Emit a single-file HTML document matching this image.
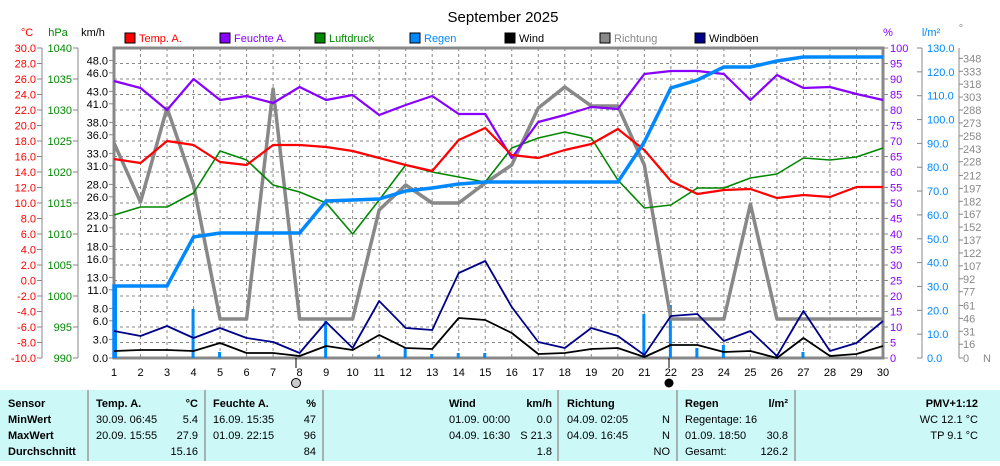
<!DOCTYPE html>
<html><head><meta charset="utf-8"><style>
body{margin:0;background:#fff;width:1000px;height:461px;overflow:hidden;font-family:"Liberation Sans",sans-serif}
svg text{font-family:"Liberation Sans",sans-serif}
</style></head><body>
<svg width="1000" height="461" viewBox="0 0 1000 461" xmlns="http://www.w3.org/2000/svg">
<text x="503" y="22" font-size="15" text-anchor="middle" fill="#000">September 2025</text>
<!-- unit headers -->
<g font-size="11">
<text x="27" y="36" fill="#f00" text-anchor="middle">°C</text>
<text x="58" y="36" fill="#080" text-anchor="middle">hPa</text>
<text x="93" y="36" fill="#000" text-anchor="middle">km/h</text>
<text x="888" y="36" fill="#80f" text-anchor="middle">%</text>
<text x="931" y="36" fill="#08f" text-anchor="middle">l/m²</text>
<text x="961" y="32" fill="#888" text-anchor="middle">°</text>
</g>
<!-- legend -->
<g font-size="11">
<rect x="125" y="33" width="10" height="10" fill="#f00" stroke="#000"/><text x="139" y="42" fill="#f00">Temp. A.</text>
<rect x="220" y="33" width="10" height="10" fill="#80f" stroke="#000"/><text x="234" y="42" fill="#80f">Feuchte A.</text>
<rect x="315" y="33" width="10" height="10" fill="#080" stroke="#000"/><text x="329" y="42" fill="#080">Luftdruck</text>
<rect x="410" y="33" width="10" height="10" fill="#08f" stroke="#000"/><text x="424" y="42" fill="#08f">Regen</text>
<rect x="505" y="33" width="10" height="10" fill="#000" stroke="#000"/><text x="519" y="42" fill="#000">Wind</text>
<rect x="600" y="33" width="10" height="10" fill="#888" stroke="#000"/><text x="614" y="42" fill="#888">Richtung</text>
<rect x="695" y="33" width="10" height="10" fill="#008" stroke="#000"/><text x="709" y="42" fill="#000">Windböen</text>
</g>
<!-- grid -->
<g stroke="#888" stroke-dasharray="3,3" stroke-width="1">
<path d="M114 63.5H883M114 79H883M114 94.5H883M114 110H883M114 125.5H883M114 141H883M114 156.5H883M114 172H883M114 187.5H883M114 203H883M114 218.5H883M114 234H883M114 249.5H883M114 265H883M114 280.5H883M114 296H883M114 311.5H883M114 327H883M114 342.5H883"/>
<path id="vg" d=""/>
</g>
<g id="vgrid" stroke="#888" stroke-dasharray="3,3"></g>
<rect x="114" y="48" width="769" height="310" fill="none" stroke="#888" stroke-width="3"/>
<!-- left axes -->
<g stroke="#888"><path d="M42 48V358M78 48V358"/></g>
<g id="laxes" font-size="11"></g>
<g id="series"></g>
<g id="xl" font-size="11"></g>
<circle cx="296" cy="383" r="4.5" fill="#ccc" stroke="#000"/>
<circle cx="669" cy="383" r="4.5" fill="#000"/>
<path d="M296 358V368M669 358V368" stroke="#000"/>
<!-- table -->
<rect x="0" y="390" width="1000" height="71" fill="#ccf8f8"/>
<g stroke="#999" stroke-width="1.5"><path d="M88 390V461M205 390V461M323 390V461M558 390V461M677 390V461M795 390V461"/></g>
<g font-size="11" fill="#000">
<g font-weight="bold"><text x="8" y="407">Sensor</text><text x="8" y="423">MinWert</text><text x="8" y="439">MaxWert</text><text x="8" y="455">Durchschnitt</text>
<text x="96" y="407">Temp. A.</text><text x="198" y="407" text-anchor="end">°C</text>
<text x="213" y="407">Feuchte A.</text><text x="316" y="407" text-anchor="end">%</text>
<text x="449" y="407">Wind</text><text x="552" y="407" text-anchor="end">km/h</text>
<text x="567" y="407">Richtung</text>
<text x="685" y="407">Regen</text><text x="788" y="407" text-anchor="end">l/m²</text>
<text x="978" y="407" text-anchor="end">PMV+1:12</text></g>
<text x="96" y="423">30.09.  06:45</text><text x="198" y="423" text-anchor="end">5.4</text>
<text x="96" y="439">20.09.  15:55</text><text x="198" y="439" text-anchor="end">27.9</text>
<text x="198" y="455" text-anchor="end">15.16</text>
<text x="213" y="423">16.09.  15:35</text><text x="316" y="423" text-anchor="end">47</text>
<text x="213" y="439">01.09.  22:15</text><text x="316" y="439" text-anchor="end">96</text>
<text x="316" y="455" text-anchor="end">84</text>
<text x="449" y="423">01.09.  00:00</text><text x="552" y="423" text-anchor="end">0.0</text>
<text x="449" y="439">04.09.  16:30</text><text x="552" y="439" text-anchor="end">S 21.3</text>
<text x="552" y="455" text-anchor="end">1.8</text>
<text x="567" y="423">04.09.  02:05</text><text x="670" y="423" text-anchor="end">N</text>
<text x="567" y="439">04.09.  16:45</text><text x="670" y="439" text-anchor="end">N</text>
<text x="670" y="455" text-anchor="end">NO</text>
<text x="685" y="423">Regentage: 16</text>
<text x="685" y="439">01.09.  18:50</text><text x="788" y="439" text-anchor="end">30.8</text>
<text x="685" y="455">Gesamt:</text><text x="788" y="455" text-anchor="end">126.2</text>
<text x="978" y="423" text-anchor="end">WC 12.1 °C</text>
<text x="978" y="439" text-anchor="end">TP 9.1 °C</text>
</g>
<script>
var NS="http://www.w3.org/2000/svg";
function el(p,t,a,txt){var e=document.createElementNS(NS,t);for(var k in a)e.setAttribute(k,a[k]);if(txt!==undefined)e.textContent=txt;p.appendChild(e);return e;}
var X=function(d){return 114+(d-1)*26.517;};
var vg=document.getElementById('vgrid');
for(var d=2;d<30;d++)el(vg,'line',{x1:X(d),x2:X(d),y1:48,y2:358});
var la=document.getElementById('laxes');
for(var i=0;i<=20;i++){var t=30-2*i,y=48+i*15.5;
el(la,'text',{x:36,y:y+4,fill:'#f00','text-anchor':'end'},t.toFixed(1));
el(la,'line',{x1:37,x2:42,y1:y,y2:y,stroke:'#888'});}
for(var i=0;i<=10;i++){var y=48+i*31;el(la,'text',{x:72,y:y+4,fill:'#080','text-anchor':'end'},String(1040-5*i));
el(la,'line',{x1:73,x2:78,y1:y,y2:y,stroke:'#888'});}
[48,46,43,41,38,36,33,31,28,26,23,21,18,16,13,11,8,6,3,0].forEach(function(v){var y=358-v*6.2;
el(la,'text',{x:108,y:y+4,fill:'#000','text-anchor':'end'},v.toFixed(1));el(la,'line',{x1:109,x2:114,y1:y,y2:y,stroke:'#888'});});
// right axes
el(la,'path',{d:'M922 48V358M959 48V358',stroke:'#888'});
for(var i=0;i<=20;i++){var y=48+i*15.5;el(la,'text',{x:890,y:y+4,fill:'#80f'},String(100-5*i));el(la,'line',{x1:883,x2:888,y1:y,y2:y,stroke:'#888'});}
for(var i=0;i<=13;i++){var y=358-i*23.846;el(la,'text',{x:927,y:y+4,fill:'#08f'},(i*10).toFixed(1));el(la,'line',{x1:917,x2:922,y1:y,y2:y,stroke:'#888'});}
[0,16,31,46,61,77,92,107,122,137,152,167,182,197,212,228,243,258,273,288,303,318,333,348].forEach(function(v){var y=358-v*0.861;
el(la,'text',{x:963,y:y+4,fill:'#888'},String(v));el(la,'line',{x1:959,x2:963,y1:y,y2:y,stroke:'#888'});});
el(la,'text',{x:983,y:362,fill:'#888'},'N');
var xl=document.getElementById('xl');
for(var d=1;d<=30;d++)el(xl,'text',{x:X(d),y:376,'text-anchor':'middle',fill:'#000'},String(d));
var s=document.getElementById('series');
function line(ys,col,w){var p=ys.map(function(y,i){return X(i+1)+','+y;}).join(' ');el(s,'polyline',{points:p,fill:'none',stroke:col,'stroke-width':w,'stroke-linejoin':'round'});}
// rain bars
[[1,286],[4,309],[5,352],[9,321],[11,355],[12,348],[13,354],[14,353],[15,353],[21,314],[22,305],[23,348],[24,345],[26,355],[27,352]].forEach(function(b){el(s,'rect',{x:X(b[0])-(b[0]==1?0:2),y:b[1],width:3,height:358-b[1],fill:'#08f'});});
line([143,202,108,185,319,319,89,319,319,319,210,185,203,203,183,165,108,87,106,106,165,319,319,319,204,319,319,319,319,319],'#888',3.5);
line([215,207,207,193,151,160,185,192,203,234,200,165,172,177,182,148,138,132,138,180,208,205,188,188,178,174,158,160,157,148],'#080',1.6);
line([81,88,110,79,100,96,103,87,100,95,115,105,96,114,114,158,122,115,107,109,74,71,71,74,100,75,88,87,94,100],'#80f',2.2);
line([159,163,141,145,162,165,145,145,147,151,158,165,171,140,128,155,158,150,144,129,150,181,194,190,189,198,195,197,187,187],'#f00',2.2);
el(s,'polyline',{points:'114,358 114,286 '+[286,286,286,237,233,233,233,233,201,200,199,191,188,184,182,182,182,182,182,182,142,88,80,67,67,61,57,57,57,57].map(function(y,i){return X(i+1)+','+y;}).join(' '),fill:'none',stroke:'#08f','stroke-width':3.5});
line([331,336,326,338,328,338,342,353,322,348,301,328,330,273,261,307,342,348,328,336,355,316,314,341,331,356,311,351,343,321],'#008',1.8);
line([351,350,350,351,343,353,353,356,346,350,335,348,349,318,320,333,354,353,349,348,357,345,345,352,351,358,338,356,354,346],'#000',1.8);
</script>
</svg>
</body></html>
